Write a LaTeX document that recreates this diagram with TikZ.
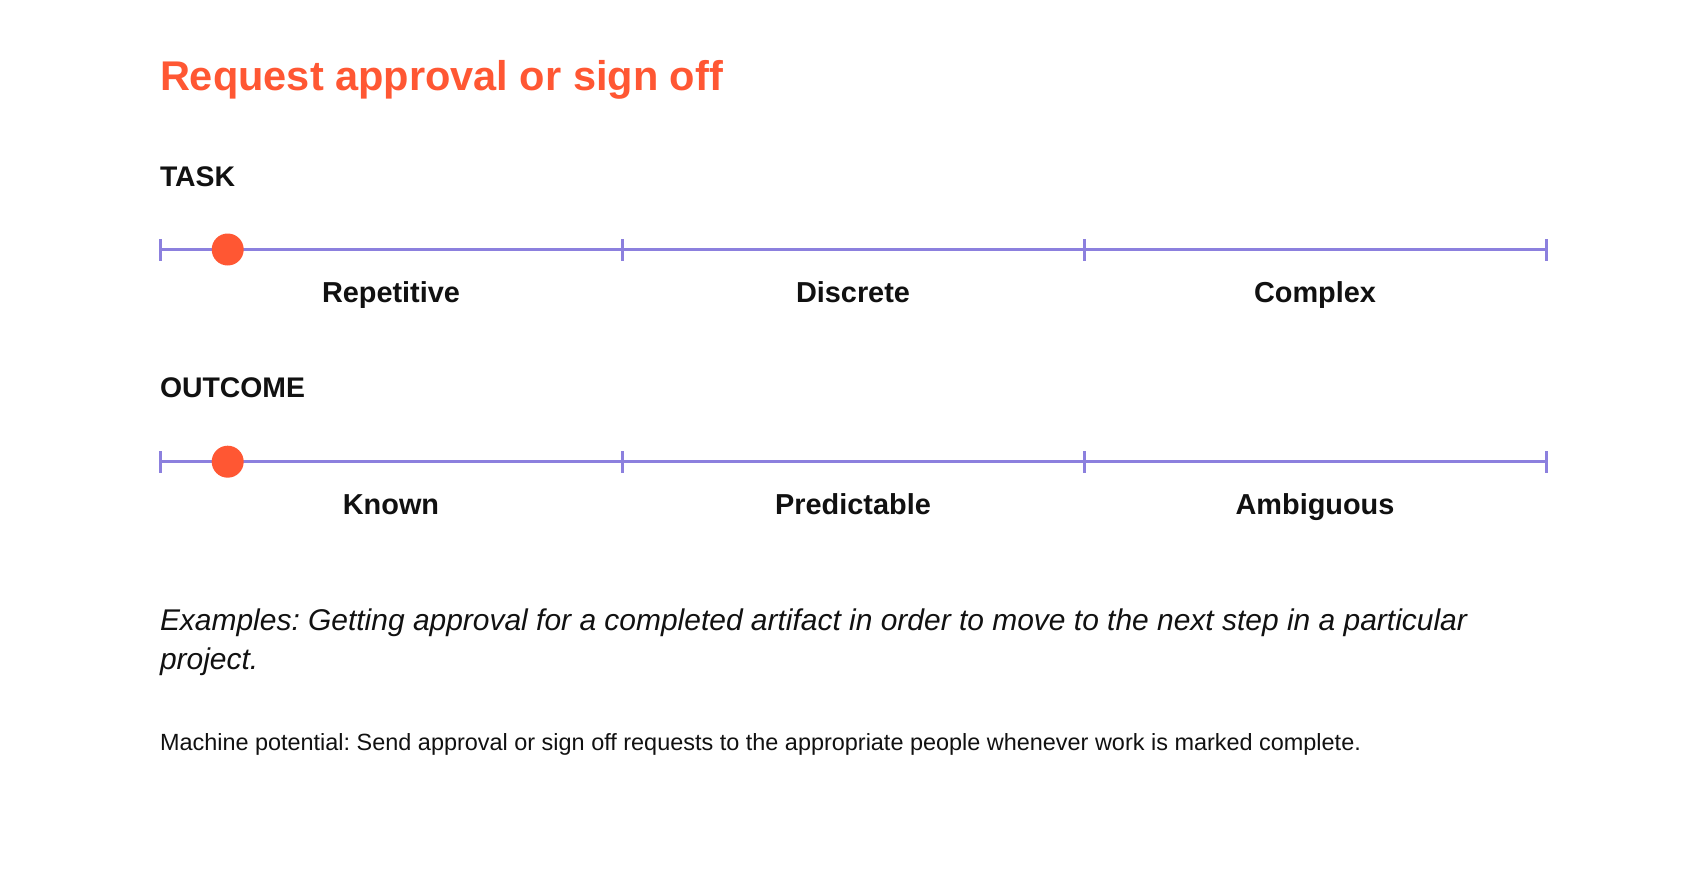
\documentclass[tikz,border=0pt]{standalone}
\usepackage{fontspec}
\setmainfont{Liberation Sans}
\frenchspacing
\definecolor{accent}{HTML}{FF5733}
\definecolor{axiscol}{HTML}{8C80DE}
\definecolor{ink}{HTML}{111111}
\newlength\myfitlen
\newcommand\myfitsize[4]{%
  \settowidth\myfitlen{\normalfont\frenchspacing#3\fontsize{20}{20}\selectfont #4}%
  \pgfmathparse{#2/\myfitlen*20}\xdef#1{\pgfmathresult}}
\AtBeginDocument{%
\frenchspacing
\myfitsize{\titlesize}{563}{\bfseries}{Request approval or sign off}%
\myfitsize{\headsize}{145}{\bfseries}{OUTCOME}%
\myfitsize{\labsize}{138}{\bfseries}{Repetitive}%
\myfitsize{\exsize}{1307}{\itshape}{Examples: Getting approval for a completed artifact in order to move to the next step in a particular}%
\myfitsize{\mpsize}{1201}{}{Machine potential: Send approval or sign off requests to the appropriate people whenever work is marked complete.}%
}
\begin{document}
\begin{tikzpicture}[x=1pt,y=-1pt,
  txt/.style={inner sep=0pt, outer sep=0pt, text=ink},
  axisline/.style={draw=axiscol, line width=3pt},
  dot/.style={circle, fill=accent, inner sep=0pt, minimum size=32pt},
]
\useasboundingbox[fill=white] (0,0) rectangle (1706,872);

% title
\node[txt, anchor=base west, text=accent, font={\fontsize{\titlesize}{\titlesize}\selectfont\bfseries}] (title) at (160,90.7) {Request approval or sign off};

% TASK scale
\node[txt, anchor=base west, font={\fontsize{\headsize}{\headsize}\selectfont\bfseries}] (task) at (160,186.7) {TASK};
\coordinate (a0) at (160,249.5);
\coordinate (a1) at (622,249.5);
\coordinate (a2) at (1084,249.5);
\coordinate (a3) at (1546,249.5);
\draw[axisline] (a0) -- (a3);
\foreach \c in {a0,a1,a2,a3}{\draw[axisline] ([yshift=-11pt]\c) -- ([yshift=11pt]\c);}
\node[dot] (d1) at (227.7,249.5) {};
\node[txt, anchor=base, font={\fontsize{\labsize}{\labsize}\selectfont\bfseries}] (l1) at (391,302) {Repetitive};
\node[txt, anchor=base, font={\fontsize{\labsize}{\labsize}\selectfont\bfseries}] (l2) at (853,302) {Discrete};
\node[txt, anchor=base, font={\fontsize{\labsize}{\labsize}\selectfont\bfseries}] (l3) at (1315,302) {Complex};

% OUTCOME scale
\node[txt, anchor=base west, font={\fontsize{\headsize}{\headsize}\selectfont\bfseries}] (outcome) at (160,397.3) {OUTCOME};
\coordinate (b0) at (160,461.7);
\coordinate (b1) at (622,461.7);
\coordinate (b2) at (1084,461.7);
\coordinate (b3) at (1546,461.7);
\draw[axisline] (b0) -- (b3);
\foreach \c in {b0,b1,b2,b3}{\draw[axisline] ([yshift=-11pt]\c) -- ([yshift=11pt]\c);}
\node[dot] (d2) at (227.7,461.7) {};
\node[txt, anchor=base, font={\fontsize{\labsize}{\labsize}\selectfont\bfseries}] (m1) at (391,514) {Known};
\node[txt, anchor=base, font={\fontsize{\labsize}{\labsize}\selectfont\bfseries}] (m2) at (853,514) {Predictable};
\node[txt, anchor=base, font={\fontsize{\labsize}{\labsize}\selectfont\bfseries}] (m3) at (1315,514) {Ambiguous};

% examples
\node[txt, anchor=base west, font={\fontsize{\exsize}{\exsize}\selectfont\itshape}] (ex1) at (160,630.7) {Examples: Getting approval for a completed artifact in order to move to the next step in a particular};
\node[txt, anchor=base west, font={\fontsize{\exsize}{\exsize}\selectfont\itshape}] (ex2) at (160,669.3) {project.};

% machine potential
\node[txt, anchor=base west, font={\fontsize{\mpsize}{\mpsize}\selectfont}] (mp) at (160,750) {Machine potential: Send approval or sign off requests to the appropriate people whenever work is marked complete.};
\end{tikzpicture}
\end{document}
